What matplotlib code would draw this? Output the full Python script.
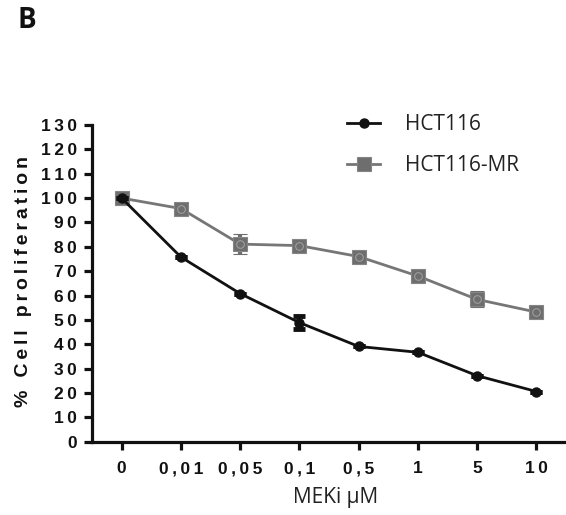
import matplotlib
matplotlib.use("Agg")
import matplotlib.pyplot as plt
import numpy as np

# data
doses = ["0", "0,01", "0,05", "0,1", "0,5", "1", "5", "10"]
hct116 = [100, 75.8, 60.8, 48.9, 39.1, 36.7, 27.1, 20.6]
hct116_err = [0, 0, 0, 2.8, 0, 0, 0, 0]
hct116_mr = [100, 95.7, 81.1, 80.5, 76.0, 68.0, 58.4, 53.2]
hct116_mr_err = [0, 0, 4.2, 0, 0, 0, 3.3, 0]
yticks = list(range(0, 131, 10))

TS = "\u2009"  # thin space, used for the letter-spaced bold labels
def spaced(s):
    return TS.join(s)

bold = dict(family=["Liberation Sans", "DejaVu Sans"], weight="bold")
soft = ["Open Sans", "DejaVu Sans"]

fig = plt.figure(figsize=(5.66, 5.15), dpi=100)
ax = fig.add_axes([92/566, 1-441.7/515, 1-92/566, (441.7-125)/515])

x = np.arange(len(doses))

# HCT116-MR: grey squares with a faint open circle inside
ax.errorbar(x, hct116_mr, yerr=hct116_mr_err, color="#767676", lw=2.0,
            marker="s", ms=10, mfc="#6e6e6e", mec="#858585", mew=0.8,
            ecolor="#6e6e6e", elinewidth=3, capsize=5, capthick=3.5, zorder=3)
ax.plot(x, hct116_mr, ls="none", marker="o", ms=5.5, mfc="none",
        mec="#a3a3a3", mew=0.7, zorder=4)

# HCT116: black dots
ax.errorbar(x, hct116, yerr=hct116_err, color="#111111", lw=2.0,
            marker="o", ms=6.5, mfc="#111111", mec="#111111",
            ecolor="#111111", elinewidth=3, capsize=4.5, capthick=3.5, zorder=5)

ax.set_xlim(-0.5, 7.5)
ax.set_ylim(0, 130)
ax.set_xticks(x)
ax.set_xticklabels([spaced(d) for d in doses], fontsize=12.5, **bold)
ax.set_yticks(yticks)
ax.set_yticklabels([spaced(str(v)) for v in yticks], fontsize=12.5, **bold)

for s in ["top", "right"]:
    ax.spines[s].set_visible(False)
for s in ["left", "bottom"]:
    ax.spines[s].set_linewidth(2.3)
    ax.spines[s].set_color("#111111")
ax.tick_params(axis="y", length=6, width=2.3, pad=5, colors="#111111")
ax.tick_params(axis="x", length=6, width=2.3, pad=8, colors="#111111")

fig.text(24/566, 1-281.5/515, spaced("% Cell proliferation"), rotation=90,
         ha="center", va="center", fontsize=14, color="#111111", **bold)
fig.text(336/566, 1-498/515, "MEKi \u03bcM", ha="center", va="center",
         fontsize=15, family=soft, color="#222222")
fig.text(17/566, 1-20.5/515, "B", ha="left", va="center", fontsize=20,
         family=soft, weight="bold", color="#111111")

# legend drawn with proxy handles
h1, = ax.plot([], [], color="#111111", lw=2.0, marker="o", ms=6.5)
h2, = ax.plot([], [], color="#767676", lw=2.0, marker="s", ms=10,
              mfc="#6e6e6e", mec="#858585", mew=0.8)
leg = fig.legend([h1, h2], ["HCT116", "HCT116-MR"], loc="upper left",
                 bbox_to_anchor=(347/566, 1-114/515), frameon=False,
                 prop={"family": soft, "size": 15}, handlelength=1.6,
                 handletextpad=1.2, labelspacing=0.95, borderpad=0,
                 borderaxespad=0)
for t in leg.get_texts():
    t.set_color("#222222")

fig.savefig("out.png", dpi=100)
